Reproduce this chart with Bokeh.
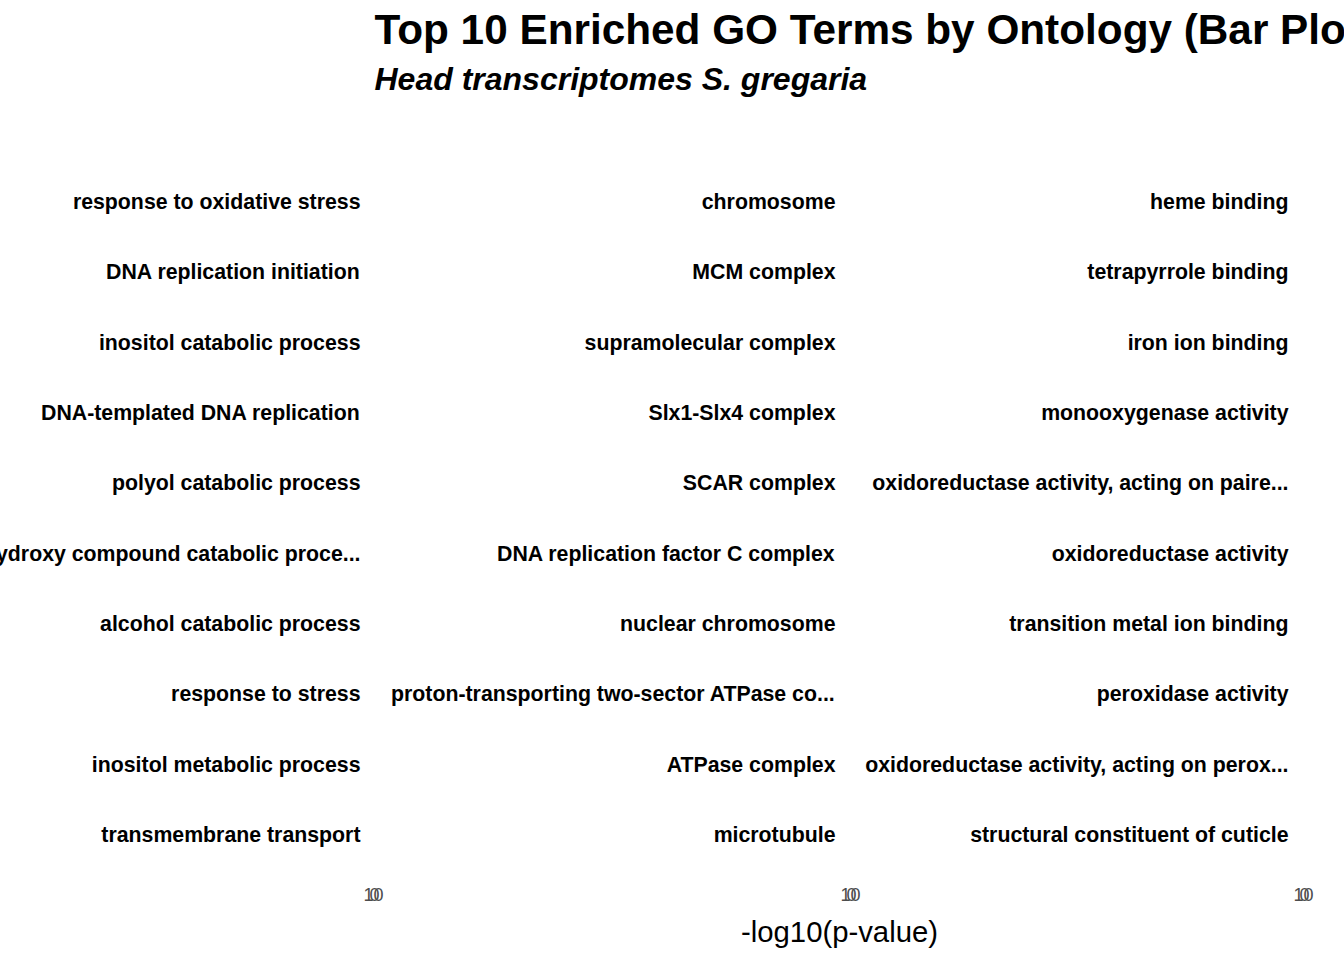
from bokeh.plotting import figure
from bokeh.layouts import row, column
from bokeh.models import FactorRange, Range1d, Title, FixedTicker
from bokeh.embed import file_html
from bokeh.resources import INLINE

# ---- data (display order, top to bottom) ----
bp_terms = [
    "response to oxidative stress",
    "DNA replication initiation",
    "inositol catabolic process",
    "DNA-templated DNA replication",
    "polyol catabolic process",
    "hydroxy compound catabolic proce...",
    "alcohol catabolic process",
    "response to stress",
    "inositol metabolic process",
    "transmembrane transport",
]
cc_terms = [
    "chromosome",
    "MCM complex",
    "supramolecular complex",
    "Slx1-Slx4 complex",
    "SCAR complex",
    "DNA replication factor C complex",
    "nuclear chromosome",
    "proton-transporting two-sector ATPase co...",
    "ATPase complex",
    "microtubule",
]
mf_terms = [
    "heme binding",
    "tetrapyrrole binding",
    "iron ion binding",
    "monooxygenase activity",
    "oxidoreductase activity, acting on paire...",
    "oxidoreductase activity",
    "transition metal ion binding",
    "peroxidase activity",
    "oxidoreductase activity, acting on perox...",
    "structural constituent of cuticle",
]
x_ticks = [0, 10]
x_limits = (10, 0)   # the collapsed panel: 10 sits just left of 0

FONT = "Liberation Sans"
TITLE = "Top 10 Enriched GO Terms by Ontology (Bar Plot)"
SUBTITLE = "Head transcriptomes S. gregaria"
XLABEL = "-log10(p-value)"

FRAME_H = 718
FRAME_W = 1
TOP = 39


def panel(terms, left_border, right_border, standoff):
    p = figure(
        y_range=FactorRange(factors=list(reversed(terms)), range_padding=0.1,
                            range_padding_units="absolute"),
        x_range=Range1d(*x_limits),
        frame_width=FRAME_W, frame_height=FRAME_H,
        min_border_left=left_border, min_border_right=right_border,
        min_border_top=TOP, min_border_bottom=0,
        toolbar_location=None, output_backend="svg", title=None,
    )
    p.outline_line_color = None
    p.xgrid.visible = False
    p.ygrid.visible = False
    p.background_fill_color = None
    p.border_fill_color = None
    ya = p.yaxis[0]
    ya.axis_line_color = None
    ya.major_tick_line_color = None
    ya.minor_tick_line_color = None
    ya.major_tick_out = 0
    ya.major_tick_in = 0
    ya.major_label_standoff = standoff
    ya.major_label_text_font = FONT
    ya.major_label_text_font_style = "bold"
    ya.major_label_text_font_size = "21.3px"
    ya.major_label_text_color = "black"
    xa = p.xaxis[0]
    xa.ticker = FixedTicker(ticks=x_ticks)
    xa.axis_line_color = None
    xa.major_tick_line_color = None
    xa.minor_tick_line_color = None
    xa.major_tick_out = 0
    xa.major_tick_in = 0
    xa.major_label_standoff = 10
    xa.major_label_text_font = FONT
    xa.major_label_text_font_size = "18px"
    xa.major_label_text_color = "#4D4D4D"
    return p


p1 = panel(bp_terms, 400, 10, 13)
p1.margin = (0, 0, 0, -27)
p2 = panel(cc_terms, 466, 10, 15)
p3 = panel(mf_terms, 442, 40, 15)

# header with title and subtitle
h = figure(width=1344, height=120, x_range=Range1d(0, 1), y_range=Range1d(0, 1),
           min_border_left=374, min_border_right=0, min_border_top=4, min_border_bottom=0,
           toolbar_location=None, output_backend="svg", title=None)
h.add_layout(Title(text=SUBTITLE, align="left", text_font=FONT, text_font_size="32px",
                   text_font_style="bold italic", text_color="black", standoff=4), "above")
h.add_layout(Title(text=TITLE, align="left", text_font=FONT, text_font_size="42.3px",
                   text_font_style="bold", text_color="black", standoff=7), "above")

# footer with the shared x-axis title, centred on the panel area
f = figure(width=1344, frame_height=11, x_range=Range1d(0, 1), y_range=Range1d(0, 1),
           min_border_left=373, min_border_right=40, min_border_top=0, min_border_bottom=0,
           toolbar_location=None, output_backend="svg", title=None)
f.add_layout(Title(text=XLABEL, align="center", vertical_align="top", text_font=FONT,
                   text_font_size="29.3px", text_font_style="normal", text_color="black",
                   standoff=0), "below")

for b in (h, f):
    b.axis.visible = False
    b.grid.visible = False
    b.outline_line_color = None

layout = column(h, row(p1, p2, p3, spacing=0), f, spacing=0)

open("out.html", "w").write(file_html(layout, INLINE))
